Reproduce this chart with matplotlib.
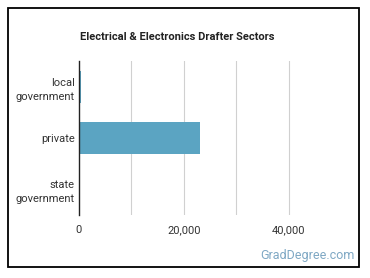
import matplotlib.pyplot as plt
from matplotlib.patches import Rectangle

plt.rcParams['font.family'] = ['Roboto', 'DejaVu Sans']

sectors = ['local\ngovernment', 'private', 'state\ngovernment']
workers = [300, 23100, 150]
ticks = [0, 20000, 40000]
tick_labels = ['0', '20,000', '40,000']

W, H = 370, 278
fig = plt.figure(figsize=(W / 100, H / 100), dpi=100)
fig.patch.set_facecolor('white')

# outer frame
fig.add_artist(Rectangle((8 / W, 1 - 267 / H), 351 / W, 259 / H,
                         transform=fig.transFigure, fill=False,
                         edgecolor='black', linewidth=1.3))

ax = fig.add_axes([79 / W, 1 - 215 / H, 262 / W, 154 / H])
y = range(len(sectors))
ax.barh(y, workers, height=0.62, color='#5ba4c2', zorder=2)
ax.set_ylim(len(sectors) - 0.5, -0.5)
ax.set_xlim(0, 50000)

for g in [10000, 20000, 30000, 40000]:
    ax.axvline(g, color='#d0d0d0', linewidth=0.8, zorder=1)

ax.set_xticks(ticks)
ax.set_xticklabels(tick_labels)
ax.set_yticks(list(y))
ax.set_yticklabels(sectors, linespacing=1.5, multialignment='right')
ax.tick_params(axis='both', length=0, labelsize=8, colors='#333333')
ax.tick_params(axis='x', pad=7)
ax.tick_params(axis='y', pad=3)

for s in ['top', 'right', 'bottom']:
    ax.spines[s].set_visible(False)
ax.spines['left'].set_color('#222222')
ax.spines['left'].set_linewidth(1)
ax.spines['left'].set_zorder(3)

fig.text(177 / W, 1 - 37 / H, 'Electrical & Electronics Drafter Sectors',
         ha='center', va='center', fontsize=8, fontweight='bold', color='#222222')
fig.text(355 / W, 1 - 256 / H, 'GradDegree.com', ha='right', va='center',
         fontsize=9, color='#7fa8c4')

fig.savefig('out.png', dpi=100)
